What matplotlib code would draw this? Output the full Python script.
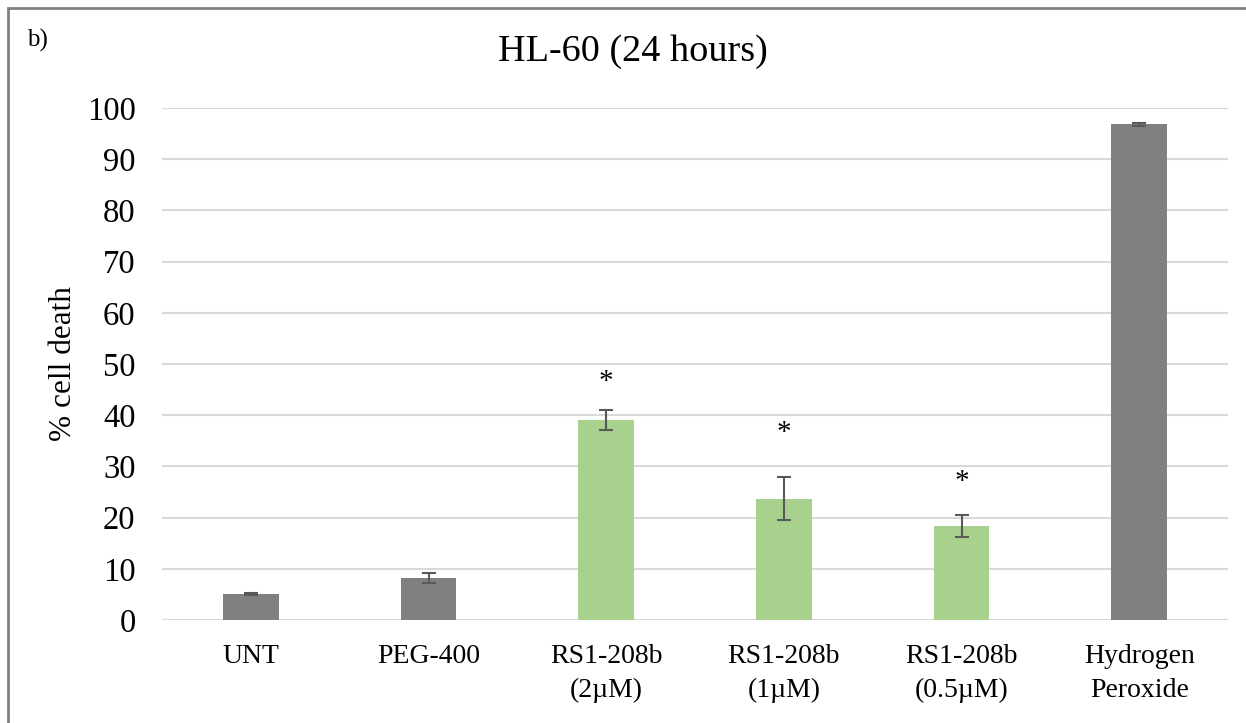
import matplotlib
matplotlib.use("Agg")
import matplotlib.pyplot as plt
from matplotlib.patches import Rectangle
import numpy as np

# data
categories = ["UNT", "PEG-400", "RS1-208b\n(2µM)", "RS1-208b\n(1µM)",
              "RS1-208b\n(0.5µM)", "Hydrogen\nPeroxide"]
cell_death = [5.0, 8.2, 39.1, 23.7, 18.4, 96.8]
errors = [0.2, 0.9, 2.0, 4.2, 2.2, 0.3]
star_y = [None, None, 46.5, 36.5, 27.0, None]
bar_colors = ["#808080", "#808080", "#a9d18e", "#a9d18e", "#a9d18e", "#808080"]
yticks = list(range(0, 101, 10))

plt.rcParams["font.family"] = ["Liberation Serif", "DejaVu Serif"]

W, H = 1246, 723
fig = plt.figure(figsize=(W / 100, H / 100), dpi=100)
ax = fig.add_axes([162 / W, 1 - 620 / H, (1228 - 162) / W, (620 - 108) / H])

x = np.arange(len(categories))
ax.bar(x, cell_death, width=0.315, color=bar_colors, zorder=2)
ax.errorbar(x, cell_death, yerr=errors, fmt="none", ecolor="#595959",
            elinewidth=1.5, capsize=5, capthick=1.5, zorder=3)

for xi, sy in zip(x, star_y):
    if sy is not None:
        ax.text(xi, sy, "*", ha="center", va="center", fontsize=21)

ax.set_xlim(-0.5, len(categories) - 0.5)
ax.set_ylim(0, 100)
ax.set_yticks(yticks)
ax.set_xticks(x)
ax.set_xticklabels(categories, fontsize=20, linespacing=1.5)
ax.tick_params(axis="y", labelsize=23.5, length=0, pad=19)
ax.tick_params(axis="x", length=0, pad=17)
ax.grid(axis="y", color="#d9d9d9", linewidth=1.5, zorder=0)
ax.set_axisbelow(True)
for s in ax.spines.values():
    s.set_visible(False)

ax.set_ylabel("% cell death", fontsize=22.5, labelpad=6)
fig.text(633 / W, 1 - 52 / H, "HL-60 (24 hours)", ha="center",
         va="center", fontsize=27.5)
fig.text(27 / W, 1 - 40 / H, "b)", ha="left", va="center", fontsize=18)

# outer frame (only left and top edges fall inside the picture)
fig.patches.append(Rectangle((8 / W, -0.1), 1.2, 1 - 8 / H + 0.1,
                             transform=fig.transFigure, fill=False,
                             edgecolor="#808080", linewidth=2))

fig.savefig("out.png", dpi=100)
